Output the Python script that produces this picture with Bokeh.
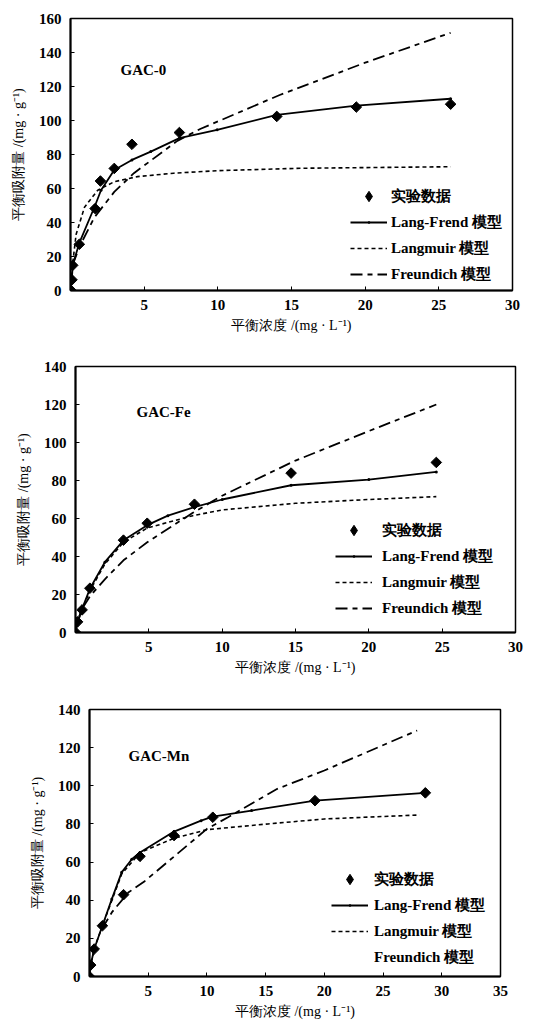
from bokeh.plotting import figure
from bokeh.models import Legend, LegendItem, Label, FixedTicker, Range1d
from bokeh.embed import file_html
from bokeh.resources import INLINE
import math

# ---------------- data ----------------
# Panel 1: GAC-0
exp0_x = [0.05, 0.1, 0.15, 0.6, 1.67, 2.03, 2.97, 4.17, 7.39, 14.0, 19.4, 25.8]
exp0_y = [0, 6.3, 14.8, 27.2, 48.2, 64.4, 71.8, 86.0, 92.9, 102.4, 107.9, 109.6]
lf0_x = [0, 0.1, 0.15, 0.6, 1.67, 2.07, 2.97, 4.17, 5.45, 7.39, 9.95, 14.0, 19.4, 25.8]
lf0_y = [0, 8, 15, 28, 50, 59, 70.9, 76.8, 81.7, 89.6, 94.5, 103.3, 108.7, 112.8]
lm0_x = [0, 0.15, 0.38, 0.95, 1.85, 2.97, 4.55, 7.0, 10.0, 15.6, 25.8]
lm0_y = [0, 16, 33, 49, 59, 64, 67, 69, 70.5, 71.9, 72.8]
fr0_x = [0.15, 0.6, 1.62, 2.97, 4.3, 7.25, 8.8, 14.2, 20.0, 25.8]
fr0_y = [15, 25.6, 43, 58, 69, 88, 95, 115, 134, 151.6]

# Panel 2: GAC-Fe
exp1_x = [0.02, 0.14, 0.45, 0.98, 3.27, 4.89, 8.11, 14.7, 24.6]
exp1_y = [0, 5.6, 11.9, 23.3, 48.6, 57.5, 67.5, 83.9, 89.5]
lf1_x = [0, 0.14, 0.45, 0.98, 2.0, 3.27, 4.89, 6.3, 8.11, 10.0, 14.7, 20.0, 24.6]
lf1_y = [0, 6, 12.5, 23, 37, 48.5, 56.5, 61.5, 66, 70, 77.5, 80.5, 84.5]
lm1_x = [0, 0.14, 0.45, 0.98, 2.0, 3.27, 4.89, 8.0, 10.0, 15.0, 20.0, 24.6]
lm1_y = [0, 5, 12, 22, 36, 47.5, 55, 61.5, 64.5, 68, 70, 71.5]
fr1_x = [0, 0.14, 0.45, 0.98, 2.0, 3.27, 4.89, 8.0, 10.0, 15.0, 20.0, 24.6]
fr1_y = [0, 6, 12.5, 19, 28, 38, 47.5, 63, 72, 90.5, 106, 120]

# Panel 3: GAC-Mn
exp2_x = [0.0, 0.1, 0.4, 1.1, 2.9, 4.3, 7.2, 10.5, 19.2, 28.6]
exp2_y = [0, 6, 14.4, 26.6, 42.9, 63, 73.9, 83.5, 92.2, 96.3]
lf2_x = [0, 0.1, 0.4, 1.1, 1.9, 2.74, 3.6, 4.3, 7.2, 9.5, 10.5, 13.8, 19.2, 28.6]
lf2_y = [0, 6, 14.4, 26.6, 40.6, 54.6, 61.5, 65, 76, 81.7, 83.8, 87, 92.2, 96.3]
lm2_x = [0, 0.1, 0.4, 1.1, 2.74, 4.3, 7.2, 10.0, 15.2, 20.0, 28.1]
lm2_y = [0, 6, 14.4, 26.6, 53.7, 65, 72.5, 77, 80, 82.6, 84.7]
fr2_x = [1.05, 1.9, 3.3, 4.7, 7.3, 10.0, 11.8, 16.0, 20.0, 27.9]
fr2_y = [24.9, 33.6, 44, 50, 63.4, 77.4, 83.5, 98.4, 108, 129]

x_ticks_a = [5, 10, 15, 20, 25, 30]
x_ticks_b = [5, 10, 15, 20, 25, 30, 35]
y_ticks_a = [0, 20, 40, 60, 80, 100, 120, 140, 160]
y_ticks_b = [0, 20, 40, 60, 80, 100, 120, 140]

labels = ["实验数据", "Lang-Frend 模型", "Langmuir 模型", "Freundich 模型"]
panel_names = ["GAC-0", "GAC-Fe", "GAC-Mn"]
x_label = "平衡浓度 /(mg · L⁻¹)"
y_label = "平衡吸附量 /(mg · g⁻¹)"

FONT = "Liberation Serif"
NAN = float("nan")


def make_panel(exp_x, exp_y, lf_x, lf_y, lm_x, lm_y, fr_x, fr_y,
               xmax, ymax, xticks, yticks, name,
               width, height, bl, br, bt, bb,
               leg_loc, leg_standoff, name_pos, fr_symbol=True):
    p = figure(width=width, height=height, output_backend="svg",
               toolbar_location=None,
               x_range=Range1d(0, xmax), y_range=Range1d(0, ymax),
               min_border_left=bl, min_border_right=br,
               min_border_top=bt, min_border_bottom=bb)
    p.xgrid.visible = False
    p.ygrid.visible = False
    p.outline_line_color = "black"
    p.outline_line_width = 1.5
    p.outline_line_alpha = 1.0

    for ax in (p.xaxis[0], p.yaxis[0]):
        ax.axis_line_width = 2
        ax.axis_line_color = "black"
        ax.major_tick_in = 4
        ax.major_tick_out = 0
        ax.major_tick_line_color = "black"
        ax.minor_tick_line_color = None
        ax.major_label_text_font = FONT
        ax.major_label_text_font_style = "bold"
        ax.major_label_text_font_size = "15px"
        ax.major_label_text_color = "black"
        ax.axis_label_text_font = FONT
        ax.axis_label_text_font_style = "normal"
        ax.axis_label_text_font_size = "14px"
        ax.axis_label_text_color = "black"
    p.xaxis.ticker = FixedTicker(ticks=xticks)
    p.yaxis.ticker = FixedTicker(ticks=yticks)
    p.xaxis.major_label_standoff = 9
    p.yaxis.major_label_standoff = 9
    p.xaxis.axis_label = x_label
    p.yaxis.axis_label = y_label
    p.xaxis.axis_label_standoff = 5
    p.yaxis.axis_label_standoff = 10

    r_fr = p.line(fr_x, fr_y, line_color="black", line_width=1.8,
                  line_dash="12 5 5 5")
    r_lm = p.line(lm_x, lm_y, line_color="black", line_width=1.6,
                  line_dash="4 3")
    r_lf = p.line(lf_x, lf_y, line_color="black", line_width=1.8)
    p.scatter(lf_x, lf_y, marker="dot", size=12, color="black")
    p.scatter(exp_x, exp_y, marker="square", angle=math.pi / 4,
              size=7.5, color="black")

    # legend-only sample glyphs (NaN point: nothing is drawn in the plot)
    leg_exp = p.scatter([NAN], [NAN], marker="diamond", color="black")
    leg_lfd = p.scatter([NAN], [NAN], marker="dot", color="black")
    if fr_symbol:
        fr_item_r = [r_fr]
    else:
        fr_item_r = [p.line([NAN], [NAN], line_alpha=0)]

    legend = Legend(items=[
        LegendItem(label=labels[0], renderers=[leg_exp]),
        LegendItem(label=labels[1], renderers=[r_lf, leg_lfd]),
        LegendItem(label=labels[2], renderers=[r_lm]),
        LegendItem(label=labels[3], renderers=fr_item_r),
    ], location=leg_loc)
    legend.border_line_alpha = 0
    legend.background_fill_alpha = 0
    legend.padding = 0
    legend.margin = 0
    legend.spacing = 0
    legend.glyph_width = 37
    legend.glyph_height = 26
    legend.label_height = 26
    legend.label_standoff = leg_standoff
    legend.label_text_font = FONT
    legend.label_text_font_size = "15px"
    legend.label_text_font_style = "bold"
    legend.label_text_color = "black"
    p.add_layout(legend, "center")

    lbl = Label(x=name_pos[0], y=name_pos[1], x_units="screen", y_units="screen",
                text=name, text_font=FONT, text_font_size="15px",
                text_font_style="bold", text_color="black")
    p.add_layout(lbl)
    return p


p1 = make_panel(exp0_x, exp0_y, lf0_x, lf0_y, lm0_x, lm0_y, fr0_x, fr0_y,
                30, 160, x_ticks_a, y_ticks_a, panel_names[0],
                537, 345, 70, 25, 18, 55,
                (280, 3), 4, (50, 213))
p2 = make_panel(exp1_x, exp1_y, lf1_x, lf1_y, lm1_x, lm1_y, fr1_x, fr1_y,
                30, 140, x_ticks_a, y_ticks_b, panel_names[1],
                537, 340, 75, 22, 21, 53,
                (260, 11), 10, (61, 213))
p3 = make_panel(exp2_x, exp2_y, lf2_x, lf2_y, lm2_x, lm2_y, fr2_x, fr2_y,
                35, 140, x_ticks_b, y_ticks_b, panel_names[2],
                537, 339, 89, 37, 24, 48,
                (242, 6), 6, (39, 213), fr_symbol=False)

open("out.html", "w").write(file_html([p1, p2, p3], INLINE))
